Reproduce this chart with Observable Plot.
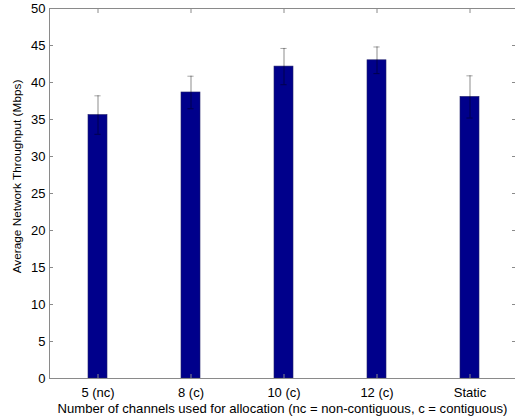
<!DOCTYPE html>
<html>
<head>
<meta charset="utf-8">
<script src="https://cdn.jsdelivr.net/npm/d3@7"></script>
<script src="https://cdn.jsdelivr.net/npm/@observablehq/plot@0.6"></script>
<style>
  html, body { margin: 0; padding: 0; background: white; }
  #chart svg { font-family: "Liberation Sans", Arial, Helvetica, sans-serif; }
</style>
</head>
<body>
<div id="chart"></div>
<script>
const categories = ["5 (nc)", "8 (c)", "10 (c)", "12 (c)", "Static"];
const means = [35.6, 38.65, 42.15, 43.0, 38.05];
const errors = [2.6, 2.2, 2.45, 1.8, 2.85];
const yTicks = [0, 5, 10, 15, 20, 25, 30, 35, 40, 45, 50];
const xTitle = "Number of channels used for allocation (nc = non-contiguous, c = contiguous)";
const yTitle = "Average Network Throughput (Mbps)";

const data = categories.map((c, i) => ({
  cat: c, mean: means[i], lo: means[i] - errors[i], hi: means[i] + errors[i]
}));

const axisGray = "#8a8a8a";

const chart = Plot.plot({
  width: 515,
  height: 419,
  marginLeft: 49,
  marginRight: 0,
  marginTop: 8,
  marginBottom: 41,
  style: { fontSize: "13px", fontFamily: "Liberation Sans, Arial, Helvetica, sans-serif", color: "black" },
  x: { domain: categories, range: [49, 518], paddingInner: 0.8, paddingOuter: 0.4, align: 0.5 },
  y: { domain: [0, 50], range: [378, 8], ticks: yTicks },
  marks: [
    Plot.barY(data, { x: "cat", y: "mean", fill: "#00008b", stroke: "#20206a", strokeWidth: 0.6 }),
    Plot.ruleX(data, { x: "cat", y1: "lo", y2: "hi", stroke: "black", strokeOpacity: 0.45, strokeWidth: 1 }),
    Plot.tickY(data, { x: "cat", y: "hi", stroke: "black", strokeOpacity: 0.35, strokeWidth: 1, insetLeft: 6.4, insetRight: 6.4 }),
    Plot.tickY(data, { x: "cat", y: "lo", stroke: "black", strokeOpacity: 0.45, strokeWidth: 1, insetLeft: 6.4, insetRight: 6.4 }),
    Plot.frame({ stroke: axisGray, strokeWidth: 1 }),
    Plot.axisY(yTicks, { anchor: "left", tickSize: 0, tickPadding: 4, label: null, fill: "black" }),
    Plot.axisY(yTicks, { anchor: "left", text: null, tickSize: -4, stroke: axisGray, label: null }),
    Plot.axisY(yTicks, { anchor: "right", text: null, tickSize: -4, stroke: axisGray, label: null }),
    Plot.axisX({ anchor: "bottom", tickSize: 0, tickPadding: 9, label: null, fill: "black" }),
    Plot.axisX({ anchor: "top", text: null, tickSize: -4, stroke: axisGray, label: null }),
    Plot.axisX({ anchor: "bottom", text: null, tickSize: -4, stroke: axisGray, label: null }),
    Plot.text([yTitle], { text: d => d, frameAnchor: "left", rotate: -90, dx: -32, dy: -17, textAnchor: "middle", lineAnchor: "middle", fontSize: 11.8, fill: "black" }),
    Plot.text([xTitle], { text: d => d, frameAnchor: "bottom-left", dx: 8, dy: 30, textAnchor: "start", lineAnchor: "middle", fontSize: 13.1, fill: "black" })
  ]
});
document.getElementById("chart").appendChild(chart);
</script>
</body>
</html>
